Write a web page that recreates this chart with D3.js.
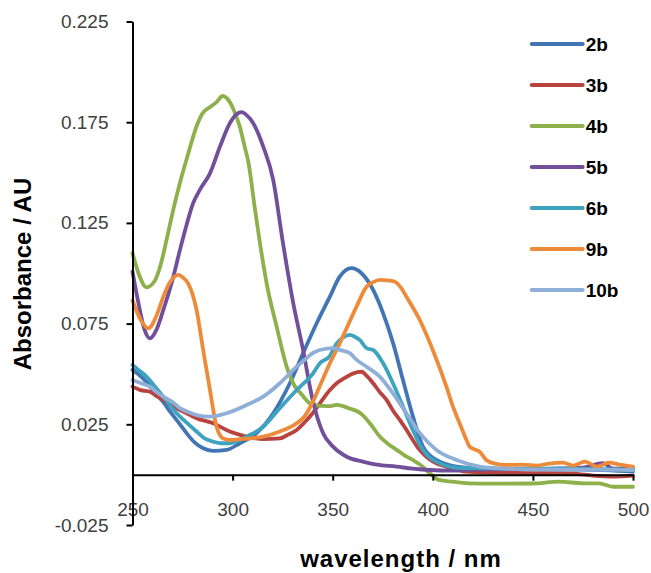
<!DOCTYPE html>
<html>
<head>
<meta charset="utf-8">
<script src="https://cdn.jsdelivr.net/npm/d3@7"></script>
<style>
  html, body { margin: 0; padding: 0; background: #fff; }
  svg { display: block; }
  text { font-family: "Liberation Sans", Arial, Helvetica, sans-serif; }
</style>
</head>
<body>
<svg id="chart" width="651" height="573"></svg>
<script>
// ---- data (wavelength nm, absorbance AU) ----
const seriesNames = ["2b", "3b", "4b", "5b", "6b", "9b", "10b"];
const seriesColors = ["#4275B4", "#B8433F", "#8DB04B", "#714F9B", "#3EA3BF", "#EE8B3B", "#90AFD8"];

const s2b = [[250,.052],[254,.049],[257,.046],[261,.041],[265.4,.036],[269,.031],[273.7,.025],[277,.0206],[281,.016],[285.3,.0131],[290.3,.0118],[297,.0123],[303.6,.0156],[312,.0206],[320.3,.0305],[328.6,.0454],[335.2,.0603],[342,.0752],[348.6,.0884],[353.5,.0983],[359.4,.1025],[364.4,.1],[370.2,.0917],[375.2,.0801],[380.2,.0652],[385.1,.047],[390.1,.0288],[395.1,.0139],[401.8,.0073],[411.8,.004],[425,.003],[450,.0025],[475,.0025],[500,.0015]];
const s3b = [[250,.0437],[254,.042],[258.7,.0412],[262,.039],[265.4,.0371],[269,.0345],[273.7,.0321],[278,.03],[282,.028],[290.3,.0255],[298.6,.0214],[307,.0189],[315.3,.0176],[323.6,.018],[328,.02],[332,.0222],[336,.026],[340,.0305],[343.6,.0354],[348.6,.042],[352,.0454],[356,.048],[360.3,.0503],[364.4,.0511],[367,.049],[370.2,.0454],[373.5,.041],[376.9,.0371],[380,.032],[383.5,.0272],[387,.022],[390,.0172],[393,.0128],[396.8,.0089],[401,.006],[406.8,.004],[416.7,.0015],[430,.001],[450,.0008],[470,.0005],[480,-.0005],[490,-.001],[500,-.0005]];
const s4b = [[250,.11],[253,.1],[257,.093],[261,.096],[264,.104],[267,.1165],[270,.13],[274,.146],[278,.16],[282,.173],[285,.1795],[289,.1827],[292,.185],[295,.188],[298.6,.185],[301,.18],[303.6,.1728],[306,.163],[308,.1546],[311,.133],[315,.1066],[317,.095],[322,.0735],[327,.0536],[331,.044],[334,.0404],[340,.0346],[348,.034],[352,.0346],[358,.033],[365,.0296],[369,.025],[373.5,.0189],[378,.015],[382,.0123],[386,.0095],[390,.0073],[395,.004],[398.5,.0007],[403,-.0026],[410,-.0035],[418,-.0043],[430,-.0045],[450,-.0044],[463,-.0035],[475,-.0043],[483,-.0043],[490,-.006],[500,-.006]];
const s5b = [[250,.1008],[253,.085],[256,.072],[258.7,.0677],[262,.072],[265.4,.0818],[270.4,.0983],[273.7,.1116],[277,.124],[280.3,.1348],[284,.142],[288.7,.1496],[293.7,.1629],[298.6,.1745],[302,.179],[304.5,.18],[307,.1785],[310.3,.1745],[315.3,.1629],[320.3,.1463],[325,.116],[330,.0867],[335.2,.0619],[340,.037],[345.2,.0206],[350.2,.0139],[357,.0089],[365,.0065],[372,.005],[381.8,.004],[390,.003],[398.5,.0023],[410,.002],[420,.0025],[440,.0027],[460,.003],[475,.0035],[485,.0057],[490,.003],[500,.003]];
const s6b = [[250,.0545],[253,.052],[257,.0487],[261,.044],[265.4,.0387],[269,.034],[273.7,.0288],[278,.025],[282,.0214],[286,.018],[290.3,.0164],[294,.0156],[298.6,.0156],[303,.017],[307,.0189],[315.3,.0238],[323.6,.033],[332,.042],[340.2,.0503],[343.6,.0553],[348.6,.059],[352,.0652],[355,.068],[358.6,.0694],[361,.0685],[363.5,.0669],[366.9,.0628],[370.2,.0619],[375.2,.0553],[380.1,.0454],[385.1,.0338],[390,.0222],[395.1,.0123],[403.4,.0057],[415,.0032],[440,.003],[470,.003],[500,.0025]];
const s9b = [[250,.0866],[254,.077],[257.9,.0727],[262,.079],[265.4,.0884],[269,.096],[272.9,.0992],[275,.098],[277.8,.095],[282,.0818],[285.3,.0619],[288.7,.042],[292,.0238],[295.3,.018],[299,.0172],[303.6,.0176],[309,.018],[315.3,.0189],[323.6,.0214],[332,.0255],[336,.029],[340,.036],[344,.045],[348,.054],[353.5,.0652],[358,.075],[361.9,.0834],[366.9,.0933],[370,.0955],[373.5,.0967],[377,.0965],[381,.0958],[384,.093],[386.8,.0884],[393.5,.0768],[400,.0619],[406.8,.0437],[410,.034],[413.4,.0255],[416.8,.0172],[418.4,.0139],[421,.0125],[423.4,.0114],[426.7,.0073],[431,.0055],[436.7,.0048],[445,.005],[452,.0045],[458,.0055],[465,.006],[470,.0045],[476,.0065],[482,.004],[488,.006],[494,.0048],[500,.004]];
const s10b = [[250,.047],[254,.0455],[258.7,.0437],[262,.041],[265.4,.0387],[270,.036],[273.7,.033],[278,.031],[282,.0296],[288.7,.0288],[297,.0305],[307,.0346],[315.3,.0387],[323.6,.0454],[332,.0536],[336,.057],[340,.0603],[343.6,.0619],[350.2,.0628],[354,.0618],[358.6,.0603],[362,.057],[366.9,.0536],[373.5,.0487],[380.1,.0404],[386.8,.0305],[393.5,.0206],[401.8,.0123],[411.8,.0073],[423.4,.004],[435,.003],[450,.0025],[475,.0025],[500,.0023]];
const seriesValues = [s2b, s3b, s4b, s5b, s6b, s9b, s10b];

const xTicks = [250, 300, 350, 400, 450, 500];
const yTicks = [-0.025, 0.025, 0.075, 0.125, 0.175, 0.225];
const yTickLabels = ["-0.025", "0.025", "0.075", "0.125", "0.175", "0.225"];
const xTitle = "wavelength / nm";
const yTitle = "Absorbance / AU";

// ---- chart ----
const svg = d3.select("#chart");
const x = d3.scaleLinear().domain([250, 500]).range([132.5, 633]);
const y = d3.scaleLinear().domain([-0.025, 0.225]).range([525, 21.5]);

const line = d3.line()
  .x(d => x(d[0]))
  .y(d => y(d[1]))
  .curve(d3.curveMonotoneX);

const lines = svg.append("g");
seriesValues.forEach((vals, i) => {
  lines.append("path")
    .datum(vals)
    .attr("d", line)
    .attr("fill", "none")
    .attr("stroke", seriesColors[i])
    .attr("stroke-width", 3.8)
    .attr("stroke-linejoin", "round")
    .attr("stroke-linecap", "round");
});

// x axis at y = 0
const xAxis = d3.axisBottom(x)
  .tickValues(xTicks)
  .tickFormat(d3.format("d"))
  .tickSizeInner(6)
  .tickSizeOuter(0)
  .tickPadding(22);
const gx = svg.append("g").attr("transform", `translate(0,${y(0)})`).call(xAxis);
gx.select(".domain").attr("stroke", "#000").attr("stroke-width", 2);
gx.selectAll(".tick line").attr("stroke", "#000").attr("stroke-width", 2);
gx.selectAll(".tick text").attr("fill", "#404040").style("font-size", "19px");

// y axis
const yAxis = d3.axisLeft(y)
  .tickValues(yTicks)
  .tickFormat((d, i) => yTickLabels[i])
  .tickSizeInner(6)
  .tickSizeOuter(0)
  .tickPadding(18);
const gy = svg.append("g").attr("transform", `translate(${x(250)},0)`).call(yAxis);
gy.select(".domain").attr("stroke", "#000").attr("stroke-width", 2);
gy.selectAll(".tick line").attr("stroke", "#000").attr("stroke-width", 2);
gy.selectAll(".tick text").attr("fill", "#404040").style("font-size", "19px");

// axis titles
svg.append("text")
  .attr("x", 401)
  .attr("y", 567)
  .attr("text-anchor", "middle")
  .style("font-size", "24px")
  .style("font-weight", "bold")
  .style("letter-spacing", "1px")
  .attr("fill", "#000")
  .text(xTitle);

svg.append("text")
  .attr("transform", "translate(31,274) rotate(-90)")
  .attr("text-anchor", "middle")
  .style("font-size", "24px")
  .style("font-weight", "bold")
  .attr("fill", "#000")
  .text(yTitle);

// legend
const legend = svg.append("g").attr("transform", "translate(531.7,44)");
seriesNames.forEach((name, i) => {
  const g = legend.append("g").attr("transform", `translate(0,${i * 41})`);
  g.append("line")
    .attr("x1", 0).attr("x2", 51)
    .attr("y1", 0).attr("y2", 0)
    .attr("stroke", seriesColors[i])
    .attr("stroke-width", 4)
    .attr("stroke-linecap", "round");
  g.append("text")
    .attr("x", 54)
    .attr("y", 7)
    .style("font-size", "19px")
    .style("font-weight", "bold")
    .attr("fill", "#000")
    .text(name);
});
</script>
</body>
</html>
